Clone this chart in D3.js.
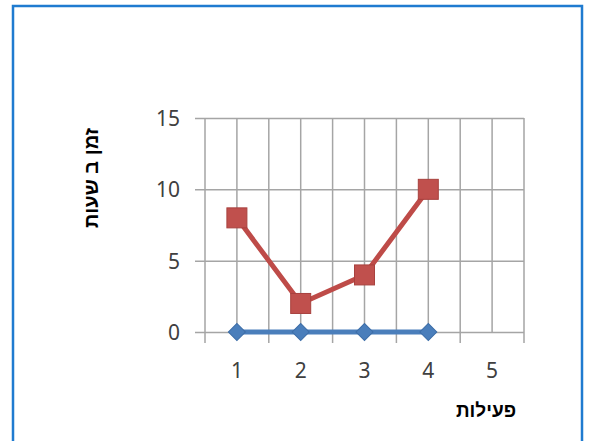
<!DOCTYPE html>
<html>
<head>
<meta charset="utf-8">
<script src="https://cdn.jsdelivr.net/npm/d3@7"></script>
<style>
  body { margin: 0; background: #fff; }
  svg { display: block; }
</style>
</head>
<body>
<script>
// data
var categories = [1, 2, 3, 4, 5];
var series1 = [0, 0, 0, 0];     // blue diamonds
var series2 = [8, 2, 4, 10];    // red squares
var yTicks = [0, 5, 10, 15];
var xTitle = "פעילות";
var yTitle = "זמן ב שעות";

const W = 589, H = 441;
const svg = d3.select("body").append("svg")
  .attr("width", W)
  .attr("height", H);

// blue frame
svg.append("rect")
  .attr("x", 13).attr("y", 6)
  .attr("width", 569).attr("height", 445)
  .attr("fill", "#fff")
  .attr("stroke", "#1f7bd0")
  .attr("stroke-width", 2.5);

const x = d3.scaleLinear().domain([0.5, 5.5]).range([205, 524]);
const y = d3.scaleLinear().domain([0, 15]).range([332, 118]);

var gridCol = "#a5a5a5";

// vertical gridlines at categories and between them
var vLines = d3.range(0.5, 5.51, 0.5);
svg.append("g").selectAll("line")
  .data(vLines)
  .enter().append("line")
  .attr("x1", d => x(d)).attr("x2", d => x(d))
  .attr("y1", y(15)).attr("y2", d => d % 1 === 0 ? y(0) : y(0) + 11)
  .attr("stroke", gridCol)
  .attr("stroke-width", 1.5);

// horizontal gridlines + y axis
const yAxis = svg.append("g")
  .attr("transform", "translate(" + x(0.5) + ",0)")
  .call(d3.axisLeft(y).tickValues(yTicks).tickSizeInner(-(x(5.5) - x(0.5))).tickSizeOuter(0).tickPadding(25));
yAxis.select(".domain").remove();
yAxis.selectAll(".tick line")
  .attr("x1", -10)
  .attr("stroke", gridCol)
  .attr("stroke-width", 1.5);
yAxis.selectAll("text")
  .attr("fill", "#404040")
  .style("font-family", "'Noto Sans', 'Open Sans', sans-serif")
  .style("font-size", "21px")
  .attr("dy", "0.36em");

// x labels
svg.append("g").selectAll("text")
  .data(categories)
  .enter().append("text")
  .attr("x", d => x(d))
  .attr("y", 378)
  .attr("text-anchor", "middle")
  .attr("fill", "#404040")
  .style("font-family", "'Noto Sans', 'Open Sans', sans-serif")
  .style("font-size", "21px")
  .text(d => d);

const line = d3.line()
  .x((d, i) => x(categories[i]))
  .y(d => y(d));

// blue series
svg.append("path")
  .datum(series1)
  .attr("d", line)
  .attr("fill", "none")
  .attr("stroke", "#4a7ebb")
  .attr("stroke-width", 5);
svg.append("g").selectAll("path")
  .data(series1)
  .enter().append("path")
  .attr("d", d3.symbol().type(d3.symbolSquare).size(145))
  .attr("transform", (d, i) => "translate(" + x(categories[i]) + "," + y(d) + ") rotate(45)")
  .attr("fill", "#4a7ebb")
  .attr("stroke", "#3d6ea8")
  .attr("stroke-width", 1);

// red series
svg.append("path")
  .datum(series2)
  .attr("d", line)
  .attr("fill", "none")
  .attr("stroke", "#be4b48")
  .attr("stroke-width", 5);
svg.append("g").selectAll("rect")
  .data(series2)
  .enter().append("rect")
  .attr("x", (d, i) => x(categories[i]) - 10)
  .attr("y", d => y(d) - 10)
  .attr("width", 20).attr("height", 20)
  .attr("fill", "#c0504d")
  .attr("stroke", "#a8413e")
  .attr("stroke-width", 1);

// axis titles
svg.append("text")
  .attr("transform", "translate(98,178) rotate(-90)")
  .attr("text-anchor", "middle")
  .style("font-family", "'Liberation Sans', Arial, sans-serif")
  .style("font-weight", "bold")
  .style("font-size", "20px")
  .attr("fill", "#000")
  .text(yTitle);

svg.append("text")
  .attr("x", 486)
  .attr("y", 417)
  .attr("text-anchor", "middle")
  .style("font-family", "'Liberation Sans', Arial, sans-serif")
  .style("font-weight", "bold")
  .style("font-size", "19px")
  .attr("fill", "#000")
  .text(xTitle);
</script>
</body>
</html>
